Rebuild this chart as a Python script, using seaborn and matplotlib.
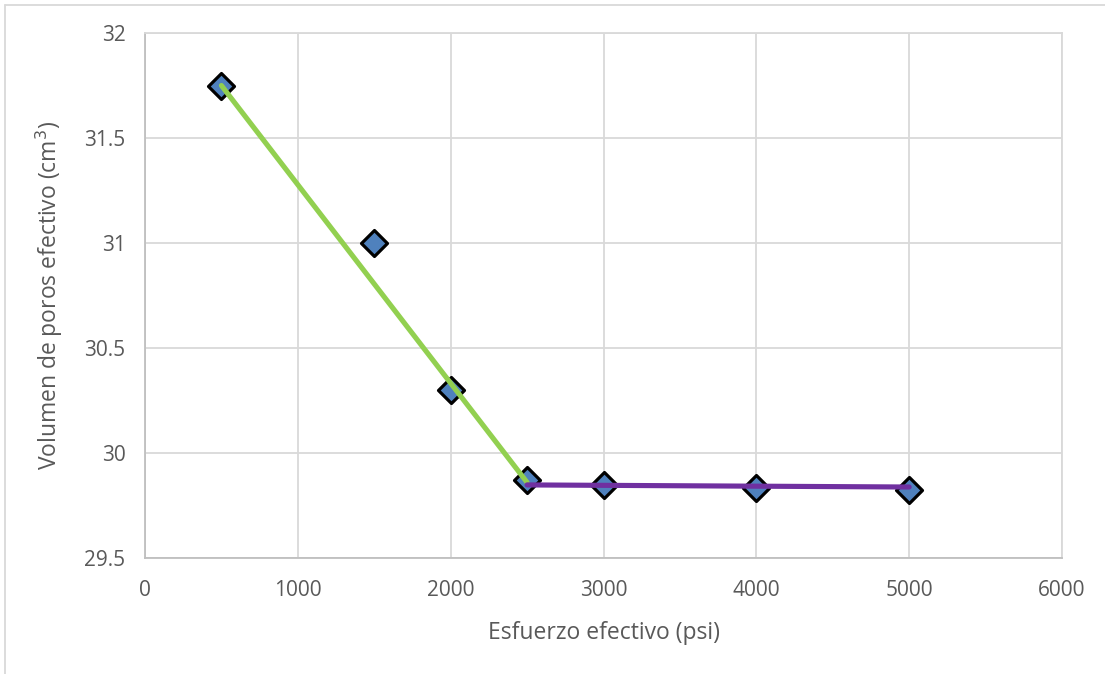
import matplotlib
matplotlib.use('Agg')
import matplotlib.pyplot as plt
import seaborn as sns
import pandas as pd
from matplotlib.lines import Line2D

# datos medidos
esfuerzo = [500, 1500, 2000, 2500, 3000, 4000, 5000]
volumen = [31.75, 31.0, 30.3, 29.87, 29.85, 29.835, 29.825]

# tendencias (extremos de cada tramo)
tramo1_x = [500, 2500]
tramo1_y = [31.75, 29.86]
tramo2_x = [2500, 5000]
tramo2_y = [29.848, 29.838]

x_ticks = [0, 1000, 2000, 3000, 4000, 5000, 6000]
y_ticks = [29.5, 30, 30.5, 31, 31.5, 32]

sns.set_theme(style='white')
plt.rcParams['font.family'] = ['Open Sans', 'DejaVu Sans']

df = pd.DataFrame({'x': esfuerzo, 'y': volumen})

fig = plt.figure(figsize=(11.05, 6.74), dpi=100)
ax = fig.add_axes([145 / 1105, 1 - 558 / 674, (1062 - 145) / 1105, (558 - 33) / 674])

sns.scatterplot(data=df, x='x', y='y', ax=ax, marker='D', s=175, color='#4F81BD',
                edgecolor='black', linewidth=2.3, zorder=3)
sns.lineplot(x=tramo1_x, y=tramo1_y, ax=ax, color='#92D050', linewidth=3.7, zorder=4)
sns.lineplot(x=tramo2_x, y=tramo2_y, ax=ax, color='#7030A0', linewidth=3.7, zorder=4)

ax.set_xlim(0, 6000)
ax.set_ylim(29.5, 32)
ax.set_xticks(x_ticks)
ax.set_yticks(y_ticks)
ax.set_xticklabels([str(t) for t in x_ticks])
ax.set_yticklabels(['29.5', '30', '30.5', '31', '31.5', '32'])
ax.grid(True, color='#D9D9D9', linewidth=1.3)
ax.set_axisbelow(True)
for side in ['top', 'right']:
    ax.spines[side].set_color('#D9D9D9')
    ax.spines[side].set_linewidth(1.3)
for side in ['left', 'bottom']:
    ax.spines[side].set_color('#BFBFBF')
    ax.spines[side].set_linewidth(1.3)
ax.tick_params(axis='both', colors='#595959', labelsize=15, length=0)
ax.tick_params(axis='x', pad=16)
ax.tick_params(axis='y', pad=14)

ax.set_xlabel('Esfuerzo efectivo (psi)', fontsize=16.5, color='#595959', labelpad=14)
ax.set_ylabel('Volumen de poros efectivo (cm$^3$)', fontsize=16.5, color='#595959', labelpad=14)

# borde del area del grafico (recortado)
fig.add_artist(Line2D([5 / 1105, 1], [1 - 5 / 674, 1 - 5 / 674], color='#D9D9D9', linewidth=1.3,
                      transform=fig.transFigure))
fig.add_artist(Line2D([5 / 1105, 5 / 1105], [0, 1 - 5 / 674], color='#D9D9D9', linewidth=1.3,
                      transform=fig.transFigure))

fig.savefig('out.png', dpi=100)
plt.close()
